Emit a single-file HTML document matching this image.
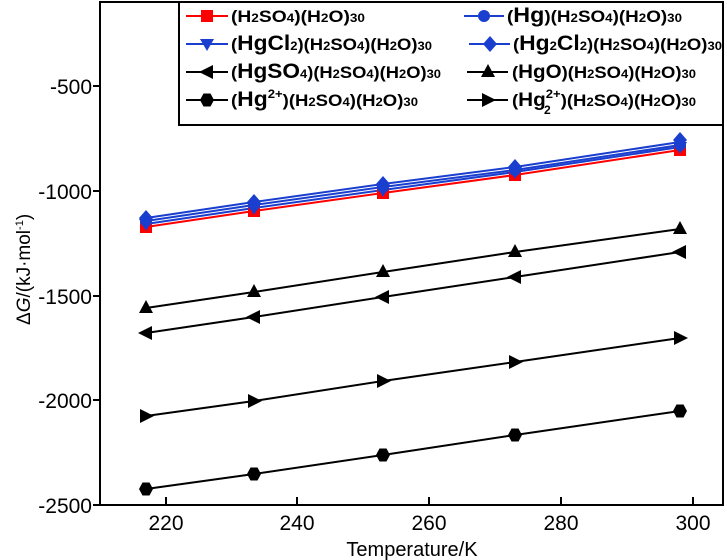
<!DOCTYPE html>
<html><head><meta charset="utf-8"><style>
body{margin:0;background:#fff;}
svg{display:block;font-family:"Liberation Sans",Arial,sans-serif;}
.lg{font-size:17px;font-weight:bold;}
.lg tspan.s{font-size:12px;font-weight:bold;}
</style></head><body>
<svg width="727" height="560" viewBox="0 0 727 560">
<rect x="100" y="2" width="623" height="503" fill="none" stroke="#000" stroke-width="2"/>
<g stroke="#000" stroke-width="2">
<line x1="93" y1="86" x2="100" y2="86"/><line x1="93" y1="191" x2="100" y2="191"/>
<line x1="93" y1="296" x2="100" y2="296"/><line x1="93" y1="400" x2="100" y2="400"/>
<line x1="93" y1="505" x2="100" y2="505"/>
<line x1="166" y1="497" x2="166" y2="505"/><line x1="297" y1="497" x2="297" y2="505"/>
<line x1="429" y1="497" x2="429" y2="505"/><line x1="561" y1="497" x2="561" y2="505"/>
<line x1="693" y1="497" x2="693" y2="505"/>
</g>
<g font-size="21" text-anchor="end">
<text x="92" y="94">-500</text><text x="92" y="199">-1000</text><text x="92" y="304">-1500</text>
<text x="92" y="408">-2000</text><text x="92" y="513">-2500</text>
</g>
<g font-size="21" text-anchor="middle">
<text x="166" y="530">220</text><text x="297" y="530">240</text><text x="429" y="530">260</text>
<text x="561" y="530">280</text><text x="693" y="530">300</text>
<text x="412" y="556" font-size="20">Temperature/K</text>
</g>
<text transform="translate(30,325) rotate(-90)" font-size="19">Δ<tspan font-style="italic">G</tspan>/(kJ·mol<tspan font-size="11" dy="-7">-1</tspan><tspan dy="7">)</tspan></text>

<defs>
<rect id="sq" x="-6" y="-6" width="12" height="12"/>
<circle id="ci" r="6"/>
<path id="dn" d="M-7,-5 L7,-5 L0,7Z"/>
<path id="di" d="M0,-8 L7,0 L0,8 L-7,0Z"/>
<path id="lt" d="M-8,0 L6,-7 L6,7Z"/>
<path id="up" d="M0,-8 L7,5 L-7,5Z"/>
<path id="hx" d="M-7,0 L-3.5,-6.5 L3.5,-6.5 L7,0 L3.5,6.5 L-3.5,6.5Z"/>
<path id="rt" d="M8,0 L-6,-7 L-6,7Z"/>
</defs>

<g stroke-width="2" fill="none">
<polyline stroke="#f00" points="146,227 254,211 383,193 515,175 680,150"/>
<polyline stroke="#1a3fcf" points="146,221 254,205 383,187 515,170 680,145"/>
<polyline stroke="#1a3fcf" points="146,224 254,208 383,190 515,172 680,147"/>
<polyline stroke="#1a3fcf" points="146,218 254,202 383,184 515,167 680,142"/>
<polyline stroke="#000" points="146,333 254,317 383,297 515,277 680,252"/>
<polyline stroke="#000" points="146,308 254,292 383,272 515,252 680,229"/>
<polyline stroke="#000" points="146,489 254,474 383,455 515,435 680,411"/>
<polyline stroke="#000" points="146,416 254,401 383,381 515,362 680,338"/>
</g>
<g fill="#f00"><use href="#sq" x="146" y="227"/><use href="#sq" x="254" y="211"/><use href="#sq" x="383" y="193"/><use href="#sq" x="515" y="175"/><use href="#sq" x="680" y="150"/></g>
<g fill="#1a3fcf">
<use href="#ci" x="146" y="221"/><use href="#ci" x="254" y="205"/><use href="#ci" x="383" y="187"/><use href="#ci" x="515" y="170"/><use href="#ci" x="680" y="145"/>
<use href="#dn" x="146" y="224"/><use href="#dn" x="254" y="208"/><use href="#dn" x="383" y="190"/><use href="#dn" x="515" y="172"/><use href="#dn" x="680" y="147"/>
<use href="#di" x="146" y="218"/><use href="#di" x="254" y="202"/><use href="#di" x="383" y="184"/><use href="#di" x="515" y="167"/><use href="#di" x="680" y="140"/>
</g>
<g fill="#000">
<use href="#lt" x="146" y="333"/><use href="#lt" x="254" y="317"/><use href="#lt" x="383" y="297"/><use href="#lt" x="515" y="277"/><use href="#lt" x="680" y="252"/>
<use href="#up" x="146" y="308"/><use href="#up" x="254" y="292"/><use href="#up" x="383" y="272"/><use href="#up" x="515" y="252"/><use href="#up" x="680" y="229"/>
<use href="#hx" x="146" y="489"/><use href="#hx" x="254" y="474"/><use href="#hx" x="383" y="455"/><use href="#hx" x="515" y="435"/><use href="#hx" x="680" y="411"/>
<use href="#rt" x="146" y="416"/><use href="#rt" x="254" y="401"/><use href="#rt" x="383" y="381"/><use href="#rt" x="515" y="362"/><use href="#rt" x="680" y="338"/>
</g>

<rect x="179" y="2" width="544" height="123" fill="#fff" stroke="#000" stroke-width="2"/>
<g stroke-width="2">
<line x1="186" y1="16" x2="228" y2="16" stroke="#f00"/><use href="#sq" x="207" y="16" fill="#f00"/>
<line x1="464" y1="16" x2="504" y2="16" stroke="#1a3fcf"/><use href="#ci" x="484" y="16" fill="#1a3fcf"/>
<line x1="186" y1="44" x2="228" y2="44" stroke="#1a3fcf"/><use href="#dn" x="207" y="44" fill="#1a3fcf"/>
<line x1="469" y1="44" x2="510" y2="44" stroke="#1a3fcf"/><use href="#di" x="490" y="44" fill="#1a3fcf"/>
<line x1="186" y1="72" x2="228" y2="72" stroke="#000"/><use href="#lt" x="207" y="72" fill="#000"/>
<line x1="467" y1="72" x2="508" y2="72" stroke="#000"/><use href="#up" x="488" y="72" fill="#000"/>
<line x1="186" y1="100" x2="228" y2="100" stroke="#000"/><use href="#hx" x="207" y="100" fill="#000"/>
<line x1="467" y1="100" x2="508" y2="100" stroke="#000"/><use href="#rt" x="488" y="100" fill="#000"/>
</g>
<g class="lg">
<text x="231" y="22" textLength="134" lengthAdjust="spacingAndGlyphs">(H<tspan class="s">2</tspan>SO<tspan class="s">4</tspan>)(H<tspan class="s">2</tspan>O)<tspan class="s">30</tspan></text>
<text x="507" y="22" textLength="175" lengthAdjust="spacingAndGlyphs">(<tspan font-size="21">Hg</tspan>)(H<tspan class="s">2</tspan>SO<tspan class="s">4</tspan>)(H<tspan class="s">2</tspan>O)<tspan class="s">30</tspan></text>
<text x="231" y="50" textLength="201" lengthAdjust="spacingAndGlyphs">(<tspan font-size="21">HgCl</tspan><tspan class="s">2</tspan>)(H<tspan class="s">2</tspan>SO<tspan class="s">4</tspan>)(H<tspan class="s">2</tspan>O)<tspan class="s">30</tspan></text>
<text x="513" y="50" textLength="209" lengthAdjust="spacingAndGlyphs">(<tspan font-size="21">Hg</tspan><tspan class="s">2</tspan><tspan font-size="21">Cl</tspan><tspan class="s">2</tspan>)(H<tspan class="s">2</tspan>SO<tspan class="s">4</tspan>)(H<tspan class="s">2</tspan>O)<tspan class="s">30</tspan></text>
<text x="231" y="78" textLength="210" lengthAdjust="spacingAndGlyphs">(<tspan font-size="21">HgSO</tspan><tspan class="s">4</tspan>)(H<tspan class="s">2</tspan>SO<tspan class="s">4</tspan>)(H<tspan class="s">2</tspan>O)<tspan class="s">30</tspan></text>
<text x="512" y="78" textLength="184" lengthAdjust="spacingAndGlyphs">(<tspan font-size="19">HgO</tspan>)(H<tspan class="s">2</tspan>SO<tspan class="s">4</tspan>)(H<tspan class="s">2</tspan>O)<tspan class="s">30</tspan></text>
<text x="231" y="106" textLength="187" lengthAdjust="spacingAndGlyphs">(<tspan font-size="21">Hg</tspan><tspan class="s" dy="-8">2+</tspan><tspan dy="8">)(H</tspan><tspan class="s">2</tspan>SO<tspan class="s">4</tspan>)(H<tspan class="s">2</tspan>O)<tspan class="s">30</tspan></text>
<text x="512" y="106" textLength="184" lengthAdjust="spacingAndGlyphs">(<tspan font-size="19">Hg</tspan><tspan class="s" dy="-8">2+</tspan><tspan dy="8">)(H</tspan><tspan class="s">2</tspan>SO<tspan class="s">4</tspan>)(H<tspan class="s">2</tspan>O)<tspan class="s">30</tspan></text>
<text x="544" y="114" class="s" font-size="12">2</text>
</g>
</svg>
</body></html>
